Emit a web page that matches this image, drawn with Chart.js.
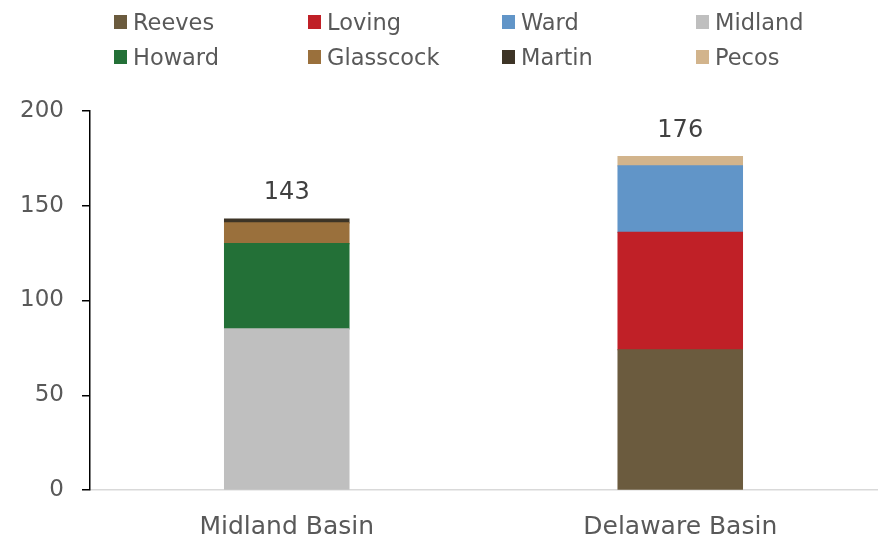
<!DOCTYPE html>
<html>
<head>
<meta charset="utf-8">
<script src="https://cdn.jsdelivr.net/npm/chart.js@4.4.1/dist/chart.umd.min.js"></script>
<style>
  html, body { margin: 0; padding: 0; background: #fff; }
  #wrap { position: relative; width: 879px; height: 536px; }
  #legend {
    position: absolute; left: 114px; top: 4px;
    display: grid; grid-template-columns: repeat(4, 194px); grid-auto-rows: 35px;
    font-family: "DejaVu Sans", sans-serif; font-size: 22.5px; color: #595959;
  }
  #legend .item { display: flex; align-items: center; white-space: nowrap; }
  #legend .box { width: 13px; height: 14px; margin-right: 6px; }
</style>
</head>
<body>
<div id="wrap">
  <canvas id="chart" width="879" height="536"></canvas>
  <div id="legend"></div>
</div>
<script>
const basins = ['Midland Basin', 'Delaware Basin'];

// county volumes per basin (null where the county is not in that basin)
const reeves    = [null, 74];
const loving    = [null, 62];
const ward      = [null, 35];
const midland   = [85, null];
const howard    = [45, null];
const glasscock = [11, null];
const martin    = [2, null];
const pecos     = [null, 5];

const yTicks = [0, 50, 100, 150, 200];

const textColor = '#595959';
const fontName = '"DejaVu Sans", sans-serif';

const series = [
  { label: 'Reeves', data: reeves, color: '#6b5b3e' },
  { label: 'Loving', data: loving, color: '#c02027' },
  { label: 'Ward', data: ward, color: '#6195c8' },
  { label: 'Midland', data: midland, color: '#bfbfbf' },
  { label: 'Howard', data: howard, color: '#237037' },
  { label: 'Glasscock', data: glasscock, color: '#9a703c' },
  { label: 'Martin', data: martin, color: '#3d3426' },
  { label: 'Pecos', data: pecos, color: '#d2b48c' }
];

// total on top of each stacked bar
const totalsPlugin = {
  id: 'totals',
  afterDatasetsDraw(chart) {
    const ctx = chart.ctx;
    const y = chart.scales.y;
    const x = chart.scales.x;
    ctx.save();
    ctx.font = '24px ' + fontName;
    ctx.fillStyle = '#404040';
    ctx.textAlign = 'center';
    ctx.textBaseline = 'middle';
    basins.forEach((b, i) => {
      let sum = 0;
      chart.data.datasets.forEach(ds => { sum += ds.data[i] || 0; });
      ctx.fillText(String(sum), x.getPixelForValue(i), y.getPixelForValue(sum) - 26);
    });
    ctx.restore();
  }
};

const chart = new Chart(document.getElementById('chart').getContext('2d'), {
  type: 'bar',
  data: {
    labels: basins,
    datasets: series.map(s => ({
      label: s.label,
      data: s.data,
      backgroundColor: s.color,
      borderWidth: 0,
      inflateAmount: 0.6,
      categoryPercentage: 1,
      barPercentage: 0.316
    }))
  },
  options: {
    responsive: false,
    animation: false,
    layout: { padding: { top: 111, right: 2, left: 0, bottom: 0 } },
    plugins: {
      legend: { display: false },
      tooltip: { enabled: false }
    },
    scales: {
      x: {
        stacked: true,
        grid: { display: false },
        border: { color: '#d9d9d9', width: 1.5 },
        ticks: { color: textColor, font: { family: fontName, size: 25 }, padding: 14 },
        afterFit(scale) { scale.height = 46; }
      },
      y: {
        stacked: true,
        min: 0,
        max: 200,
        afterBuildTicks(scale) { scale.ticks = yTicks.map(v => ({ value: v })); },
        grid: { drawOnChartArea: false, drawTicks: true, tickLength: 8, color: '#000', lineWidth: 1.5 },
        border: { color: '#000', width: 1.5 },
        ticks: { color: textColor, font: { family: fontName, size: 23 }, padding: 18 },
        afterFit(scale) { scale.width = 90; }
      }
    }
  },
  plugins: [totalsPlugin]
});

// legend in a fixed four-column grid
const legendEl = document.getElementById('legend');
chart.data.datasets.forEach(ds => {
  const item = document.createElement('div');
  item.className = 'item';
  const box = document.createElement('span');
  box.className = 'box';
  box.style.background = ds.backgroundColor;
  item.appendChild(box);
  item.appendChild(document.createTextNode(ds.label));
  legendEl.appendChild(item);
});
</script>
</body>
</html>
